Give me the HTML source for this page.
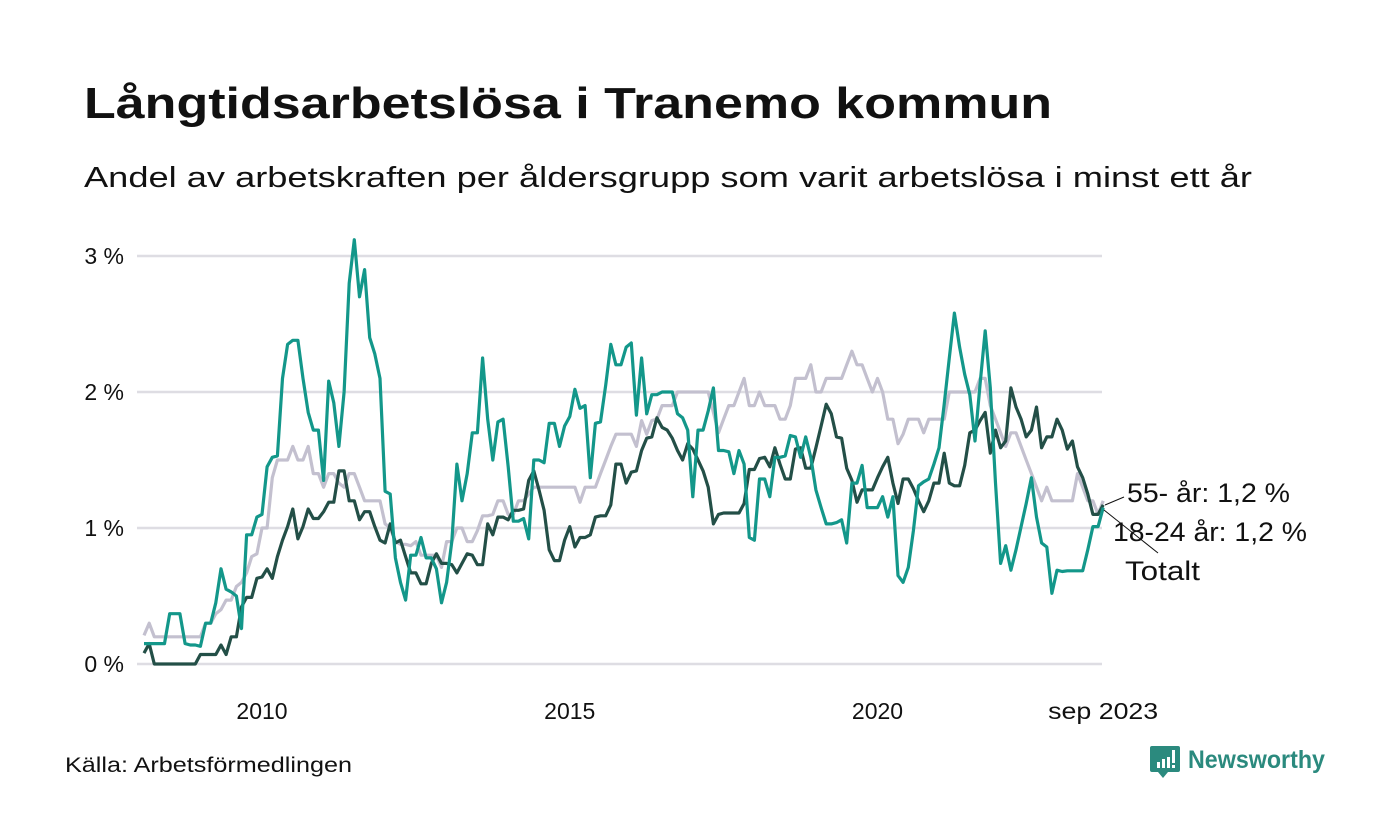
<!DOCTYPE html>
<html><head><meta charset="utf-8"><style>
html,body{margin:0;padding:0;background:#fff;}
svg{display:block;font-family:"Liberation Sans",sans-serif;}
</style></head><body>
<svg id="chart" width="1400" height="840" viewBox="0 0 1400 840" xmlns="http://www.w3.org/2000/svg">
<text x="84" y="118" font-size="44" font-weight="bold" fill="#111" textLength="968" lengthAdjust="spacingAndGlyphs">Långtidsarbetslösa i Tranemo kommun</text>
<text x="84" y="187" font-size="29" fill="#111" textLength="1168" lengthAdjust="spacingAndGlyphs">Andel av arbetskraften per åldersgrupp som varit arbetslösa i minst ett år</text>
<g id="grid"></g>
<g id="yticks"></g>
<g id="xticks"></g>
<g id="lines"></g>
<line x1="1105" y1="505" x2="1124" y2="497" stroke="#111" stroke-width="1"/>
<line x1="1104" y1="510" x2="1158" y2="553" stroke="#111" stroke-width="1"/>
<text x="1127" y="502" font-size="27" fill="#111" textLength="163" lengthAdjust="spacingAndGlyphs">55- år: 1,2 %</text>
<text x="1113" y="541" font-size="27" fill="#111" textLength="194" lengthAdjust="spacingAndGlyphs">18-24 år: 1,2 %</text>
<text x="1125" y="580" font-size="27" fill="#111" textLength="75" lengthAdjust="spacingAndGlyphs">Totalt</text>
<text x="65" y="772" font-size="21" fill="#111" textLength="287" lengthAdjust="spacingAndGlyphs">Källa: Arbetsförmedlingen</text>
<g>
<path d="M1152 746 h26 a2 2 0 0 1 2 2 v22 a2 2 0 0 1 -2 2 h-10 l-5 6 l-5 -6 h-6 a2 2 0 0 1 -2 -2 v-22 a2 2 0 0 1 2 -2z" fill="#2b8a7e"/>
<rect x="1157" y="762" width="3" height="6" fill="#fff"/><rect x="1162" y="759" width="3" height="9" fill="#fff"/><rect x="1167" y="757" width="3" height="11" fill="#fff"/><rect x="1172" y="750" width="3" height="13" fill="#fff"/><rect x="1172" y="765" width="3" height="3" fill="#fff"/>
<text x="1188" y="768" font-size="25" font-weight="bold" fill="#2b8a7e" textLength="137" lengthAdjust="spacingAndGlyphs">Newsworthy</text>
</g>
</svg>
<script>
const yTicks = [0, 1, 2, 3];
const yTickLabels = ["0 %", "1 %", "2 %", "3 %"];
const xTickDates = [2010.0, 2015.0, 2020.0, 2023 + 8/12];
const xTickLabels = ["2010", "2015", "2020", "sep 2023"];
const startYear = 2008, startMonth = 1; // Feb 2008 (0-based month)
const seriesNames = ["55- år", "Totalt", "18-24 år"];
const seriesColors = ["#c3c0cf", "#234f47", "#13978a"];
const youth = [0.15,0.15,0.15,0.15,0.15,0.37,0.37,0.37,0.15,0.14,0.14,0.13,0.3,0.3,0.45,0.7,0.55,0.53,0.5,0.26,0.95,0.95,1.08,1.1,1.45,1.52,1.53,2.1,2.35,2.38,2.38,2.1,1.85,1.72,1.72,1.35,2.08,1.92,1.6,2.0,2.8,3.12,2.7,2.9,2.4,2.28,2.1,1.27,1.25,0.78,0.6,0.47,
0.8,0.8,0.93,0.78,0.78,0.7,0.45,0.6,0.9,1.47,1.2,1.4,1.7,1.7,2.25,1.8,1.5,1.78,1.8,1.45,1.05,1.05,1.07,0.92,1.5,1.5,1.48,1.77,1.77,1.6,1.75,1.82,2.02,1.88,1.9,1.37,1.77,1.78,2.05,2.35,2.2,2.2,2.33,2.36,1.83,2.25,1.84,1.98,
1.98,2.0,2.0,2.0,1.84,1.81,1.72,1.23,1.72,1.72,1.86,2.03,1.57,1.57,1.56,1.4,1.57,1.47,0.93,0.91,1.36,1.36,1.23,1.52,1.52,1.53,1.68,1.67,1.52,1.67,1.52,1.28,1.15,1.03,1.03,1.04,1.06,0.89,1.33,1.33,1.46,1.15,1.15,1.15,1.23,1.08,1.23,
0.65,0.6,0.71,0.98,1.31,1.34,1.36,1.47,1.59,1.91,2.25,2.58,2.33,2.13,1.98,1.64,2.06,2.45,2.03,1.33,0.74,0.87,0.69,0.84,1.01,1.18,1.37,1.08,0.89,0.86,0.52,0.69,0.68,0.685,0.685,0.685,0.685,0.84,1.01,1.01,1.15];
const total = [0.08,0.15,0,0,0,0,0,0,0,0,0,0.07,0.07,0.07,0.07,0.14,0.07,0.2,0.2,0.42,0.49,0.49,0.63,0.64,0.7,0.63,0.79,0.91,1.01,1.14,0.92,1.01,1.14,1.07,1.07,1.12,1.19,1.19,1.42,1.42,1.2,1.2,1.06,1.12,1.12,1.01,0.91,0.89,1.03,0.89,0.91,0.79,
0.67,0.67,0.59,0.59,0.74,0.81,0.74,0.74,0.73,0.67,0.74,0.81,0.8,0.73,0.73,1.03,0.95,1.08,1.08,1.06,1.13,1.13,1.14,1.35,1.42,1.28,1.13,0.84,0.76,0.76,0.91,1.01,0.86,0.93,0.93,0.95,1.08,1.09,1.09,1.17,1.47,1.47,1.33,1.41,1.42,1.57,1.66,1.67,
1.81,1.74,1.72,1.66,1.57,1.5,1.62,1.58,1.5,1.42,1.3,1.03,1.1,1.11,1.11,1.11,1.11,1.18,1.43,1.43,1.51,1.52,1.45,1.59,1.47,1.36,1.36,1.58,1.59,1.44,1.44,1.59,1.75,1.91,1.84,1.67,1.66,1.44,1.35,1.19,1.28,1.28,1.28,1.37,1.45,1.52,1.33,
1.18,1.36,1.36,1.29,1.2,1.12,1.2,1.33,1.33,1.55,1.33,1.31,1.31,1.46,1.7,1.72,1.79,1.85,1.55,1.72,1.59,1.64,2.03,1.89,1.8,1.67,1.72,1.89,1.59,1.67,1.67,1.8,1.72,1.58,1.64,1.45,1.37,1.25,1.1,1.1,1.17];
const senior = [0.21,0.3,0.2,0.2,0.2,0.2,0.2,0.2,0.2,0.2,0.2,0.2,0.3,0.3,0.37,0.4,0.47,0.47,0.57,0.6,0.67,0.79,0.81,1.0,1.0,1.37,1.5,1.5,1.5,1.6,1.5,1.5,1.6,1.4,1.4,1.3,1.4,1.4,1.33,1.3,1.4,1.4,1.3,1.2,1.2,1.2,1.2,1.03,1.0,0.9,0.88,0.88,
0.87,0.9,0.8,0.8,0.8,0.8,0.71,0.9,0.9,1.0,1.0,0.9,0.9,0.98,1.09,1.09,1.1,1.2,1.2,1.1,1.1,1.2,1.2,1.25,1.3,1.3,1.3,1.3,1.3,1.3,1.3,1.3,1.3,1.19,1.3,1.3,1.3,1.4,1.5,1.6,1.69,1.69,1.69,1.69,1.6,1.79,1.69,1.79,
1.8,1.9,1.9,1.9,2.0,2.0,2.0,2.0,2.0,2.0,2.0,1.85,1.7,1.8,1.9,1.9,2.0,2.1,1.9,1.9,2.0,1.9,1.9,1.9,1.8,1.8,1.9,2.1,2.1,2.1,2.2,2.0,2.0,2.1,2.1,2.1,2.1,2.2,2.3,2.2,2.2,2.1,2.0,2.1,2.0,1.8,1.8,
1.62,1.69,1.8,1.8,1.8,1.7,1.8,1.8,1.8,1.8,2.0,2.0,2.0,2.0,2.0,2.0,2.1,2.1,1.9,1.8,1.7,1.6,1.7,1.7,1.6,1.5,1.4,1.3,1.2,1.3,1.2,1.2,1.2,1.2,1.2,1.4,1.3,1.2,1.2,1.1,1.2];

const NS = "http://www.w3.org/2000/svg";
const x0 = 262, pxPerYear = 61.55;
function xScale(t){ return x0 + (t - 2010) * pxPerYear; }
function yScale(v){ return 664 - v * 136; }
function dateOf(i){ return startYear + (startMonth + i) / 12; }

const grid = document.getElementById('grid');
const yt = document.getElementById('yticks');
yTicks.forEach((v, k) => {
  const l = document.createElementNS(NS, 'line');
  
  
  l.setAttribute('x1', 137); l.setAttribute('x2', 1102);
  l.setAttribute('y1', yScale(v)); l.setAttribute('y2', yScale(v));
  l.setAttribute('stroke', '#dedde3'); l.setAttribute('stroke-width', 2.5);
  grid.appendChild(l);
  const t = document.createElementNS(NS, 'text');
  
  
  t.setAttribute('x', 124); t.setAttribute('y', yScale(v) + 8);
  t.setAttribute('text-anchor', 'end'); t.setAttribute('font-size', 23); t.setAttribute('fill', '#111');
  t.textContent = yTickLabels[k];
  yt.appendChild(t);
});
const xt = document.getElementById('xticks');
xTickDates.forEach((d, k) => {
  const t = document.createElementNS(NS, 'text');
  
  
  t.setAttribute('x', xScale(d)); t.setAttribute('y', 719);
  t.setAttribute('text-anchor', 'middle'); t.setAttribute('font-size', 23); t.setAttribute('fill', '#111');
  if (xTickLabels[k].length > 4) { t.setAttribute('textLength', 110); t.setAttribute('lengthAdjust', 'spacingAndGlyphs'); }
  t.textContent = xTickLabels[k];
  xt.appendChild(t);
});
const lines = document.getElementById('lines');
[senior, total, youth].forEach((arr, s) => {
  const p = document.createElementNS(NS, 'polyline');
  
  
  p.setAttribute('points', arr.map((v, i) => xScale(dateOf(i)).toFixed(1) + ',' + yScale(v).toFixed(1)).join(' '));
  p.setAttribute('fill', 'none'); p.setAttribute('stroke', seriesColors[s]);
  p.setAttribute('stroke-width', 3.2); p.setAttribute('stroke-linejoin', 'round');
  lines.appendChild(p);
});
</script>
</body></html>
